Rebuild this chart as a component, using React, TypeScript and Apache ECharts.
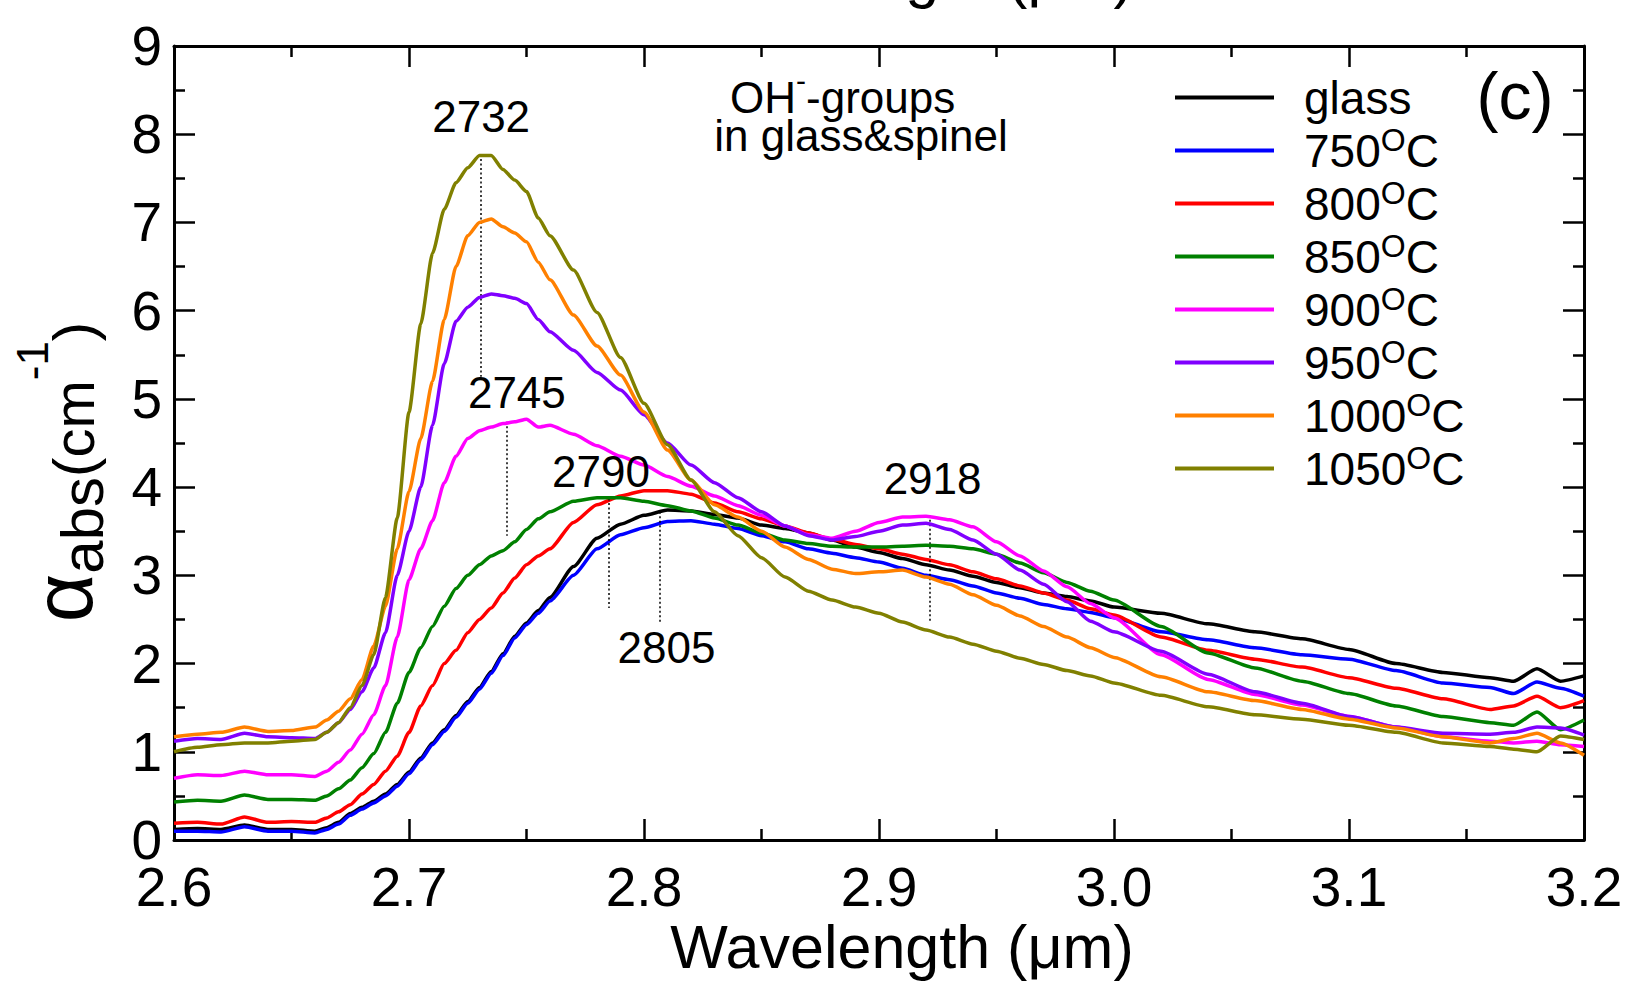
import React, { useEffect, useRef } from 'react';
import * as echarts from 'echarts';

const FONT = '"Liberation Sans", Arial, Helvetica, sans-serif';

// Wavelength grid (µm)
const wavelength = [
  2.60, 2.61, 2.62, 2.63, 2.64, 2.65, 2.66, 2.665, 2.67, 2.675,
  2.68, 2.685, 2.69, 2.695, 2.70, 2.705, 2.71, 2.715, 2.72, 2.725,
  2.73, 2.735, 2.74, 2.745, 2.75, 2.755, 2.76, 2.77, 2.78, 2.79,
  2.80, 2.81, 2.82, 2.83, 2.84, 2.85, 2.86, 2.87, 2.88, 2.89,
  2.90, 2.91, 2.92, 2.93, 2.94, 2.95, 2.96, 2.97, 2.98, 2.99,
  3.00, 3.02, 3.04, 3.06, 3.08, 3.10, 3.12, 3.14, 3.16, 3.17,
  3.18, 3.19, 3.20,
];

const glass = [
  0.12, 0.13, 0.12, 0.17, 0.12, 0.12, 0.10, 0.14, 0.20, 0.30,
  0.37, 0.44, 0.52, 0.63, 0.77, 0.93, 1.10, 1.25, 1.41, 1.57,
  1.73, 1.91, 2.11, 2.31, 2.46, 2.60, 2.75, 3.10, 3.42, 3.58,
  3.68, 3.74, 3.73, 3.69, 3.65, 3.57, 3.53, 3.48, 3.40, 3.32,
  3.26, 3.19, 3.12, 3.06, 2.99, 2.92, 2.86, 2.80, 2.76, 2.71,
  2.64, 2.57, 2.45, 2.36, 2.28, 2.16, 2.00, 1.90, 1.84, 1.80,
  1.94, 1.80, 1.86,
];
const c750 = [
  0.10, 0.10, 0.09, 0.15, 0.10, 0.10, 0.08, 0.12, 0.18, 0.28,
  0.35, 0.42, 0.50, 0.61, 0.75, 0.91, 1.08, 1.23, 1.39, 1.55,
  1.71, 1.89, 2.09, 2.29, 2.44, 2.57, 2.71, 3.00, 3.30, 3.46,
  3.54, 3.61, 3.62, 3.58, 3.53, 3.45, 3.38, 3.30, 3.25, 3.20,
  3.15, 3.08, 3.00, 2.95, 2.88, 2.80, 2.74, 2.67, 2.62, 2.58,
  2.52, 2.36, 2.27, 2.18, 2.10, 2.05, 1.92, 1.78, 1.73, 1.66,
  1.79, 1.72, 1.63,
];
const c800 = [
  0.19, 0.20, 0.18, 0.26, 0.20, 0.21, 0.20, 0.25, 0.32, 0.40,
  0.52, 0.63, 0.78, 0.95, 1.22, 1.52, 1.75, 2.00, 2.15, 2.35,
  2.50, 2.63, 2.80, 2.97, 3.12, 3.22, 3.30, 3.60, 3.80, 3.90,
  3.96, 3.96, 3.92, 3.82, 3.72, 3.64, 3.56, 3.48, 3.41, 3.35,
  3.30, 3.24, 3.18, 3.12, 3.04, 2.96, 2.88, 2.80, 2.72, 2.62,
  2.55, 2.30, 2.15, 2.05, 1.96, 1.84, 1.72, 1.60, 1.48, 1.52,
  1.63, 1.50, 1.58,
];
const c850 = [
  0.43, 0.45, 0.44, 0.51, 0.46, 0.46, 0.45, 0.50, 0.58, 0.68,
  0.82, 0.98, 1.22, 1.55, 1.90, 2.18, 2.42, 2.65, 2.85, 3.00,
  3.12, 3.22, 3.28, 3.38, 3.52, 3.64, 3.72, 3.84, 3.88, 3.88,
  3.84, 3.79, 3.73, 3.65, 3.57, 3.48, 3.40, 3.36, 3.33, 3.32,
  3.32, 3.33, 3.34, 3.33, 3.30, 3.24, 3.14, 3.03, 2.92, 2.82,
  2.72, 2.42, 2.12, 1.95, 1.80, 1.66, 1.52, 1.40, 1.33, 1.30,
  1.45, 1.25, 1.36,
];
const c900 = [
  0.70, 0.74, 0.73, 0.78, 0.74, 0.74, 0.72, 0.78, 0.88, 1.02,
  1.20, 1.42, 1.75, 2.30, 2.95, 3.30, 3.62, 4.05, 4.35, 4.55,
  4.64, 4.68, 4.72, 4.74, 4.77, 4.68, 4.70, 4.60, 4.47, 4.35,
  4.25, 4.12, 4.01, 3.90, 3.79, 3.68, 3.56, 3.46, 3.42, 3.50,
  3.60, 3.66, 3.67, 3.63, 3.55, 3.38, 3.22, 3.05, 2.87, 2.68,
  2.52, 2.10, 1.82, 1.65, 1.53, 1.40, 1.28, 1.17, 1.12, 1.10,
  1.12, 1.08, 1.06,
];
const c950 = [
  1.12, 1.15, 1.14, 1.21, 1.17, 1.16, 1.15, 1.22, 1.33, 1.48,
  1.68, 1.95, 2.35, 3.00, 3.50, 4.00, 4.70, 5.40, 5.88, 6.04,
  6.15, 6.19, 6.17, 6.14, 6.08, 5.90, 5.76, 5.55, 5.30, 5.10,
  4.82, 4.50, 4.25, 4.05, 3.88, 3.72, 3.56, 3.45, 3.40, 3.44,
  3.50, 3.57, 3.59, 3.52, 3.40, 3.24, 3.06, 2.90, 2.70, 2.48,
  2.36, 2.14, 1.88, 1.68, 1.55, 1.40, 1.28, 1.21, 1.20, 1.22,
  1.28, 1.27, 1.19,
];
const c1000 = [
  1.17, 1.20, 1.22, 1.28, 1.23, 1.24, 1.28, 1.36, 1.46, 1.60,
  1.82, 2.20, 2.65, 3.30, 3.95, 4.55, 5.20, 5.90, 6.50, 6.85,
  7.00, 7.04, 6.95, 6.88, 6.78, 6.55, 6.35, 5.95, 5.60, 5.27,
  4.85, 4.42, 4.08, 3.80, 3.66, 3.50, 3.32, 3.18, 3.07, 3.02,
  3.04, 3.06, 2.98, 2.90, 2.78, 2.66, 2.54, 2.42, 2.30, 2.18,
  2.07, 1.85, 1.68, 1.58, 1.48, 1.37, 1.27, 1.17, 1.10, 1.15,
  1.21, 1.10, 0.96,
];
const c1050 = [
  1.00, 1.05, 1.08, 1.10, 1.10, 1.12, 1.14, 1.22, 1.33, 1.50,
  1.75, 2.10, 2.75, 3.65, 4.85, 5.85, 6.65, 7.15, 7.45, 7.62,
  7.76, 7.76, 7.60, 7.48, 7.35, 7.05, 6.85, 6.46, 5.98, 5.47,
  4.95, 4.48, 4.08, 3.72, 3.45, 3.20, 2.98, 2.82, 2.72, 2.64,
  2.57, 2.47, 2.38, 2.30, 2.22, 2.14, 2.06, 1.99, 1.92, 1.86,
  1.78, 1.64, 1.51, 1.42, 1.37, 1.30, 1.22, 1.10, 1.06, 1.03,
  1.00, 1.18, 1.14,
];

const seriesNames = ['glass', '750', '800', '850', '900', '950', '1000', '1050'];
const seriesValues = [glass, c750, c800, c850, c900, c950, c1000, c1050];
const seriesColors = ['#000000', '#0000ff', '#ff0000', '#008000', '#ff00ff', '#8000ff', '#ff8000', '#808000'];

// Peak annotations (data coordinates)
const peakLabels = ['2732', '2745', '2790', '2805', '2918'];
const peakLabelX = [2.7307, 2.7459, 2.7817, 2.8096, 2.9228];
const peakLabelY = [8.2, 5.07, 4.18, 2.18, 4.10];
const peakLineX = [2.7307, 2.7414, 2.7849, 2.8066, 2.9218];
const peakLineTop = [7.72, 4.74, 3.87, 3.72, 3.68];
const peakLineBottom = [5.25, 3.45, 2.63, 2.45, 2.46];

const xMin = 2.6, xMax = 3.2, xStep = 0.1;
const yMin = 0, yMax = 9, yStep = 1;

export default function App() {
  const ref = useRef<HTMLDivElement>(null);

  useEffect(() => {
    const chart = echarts.init(ref.current as HTMLDivElement, null, { renderer: 'svg' });

    const tickStyle = { color: '#000', width: 2.5 };
    const makeX = (position: string, labels: boolean) => ({
      type: 'value', min: xMin, max: xMax, interval: xStep, position,
      axisLine: { show: true, onZero: false, lineStyle: { color: '#000', width: 3 } },
      axisTick: { show: true, inside: true, length: 21, lineStyle: tickStyle },
      minorTick: { show: true, splitNumber: 2, length: 11, lineStyle: tickStyle },
      splitLine: { show: false },
      minorSplitLine: { show: false },
      axisLabel: {
        show: labels, fontSize: 55, fontFamily: FONT, color: '#000', margin: 25, lineHeight: 44,
        formatter: (v: number) => v.toFixed(1), hideOverlap: false,
      },
    });
    const makeY = (position: string, labels: boolean) => ({
      type: 'value', min: yMin, max: yMax, interval: yStep, position,
      axisLine: { show: true, onZero: false, lineStyle: { color: '#000', width: 3 } },
      axisTick: { show: true, inside: true, length: 21, lineStyle: tickStyle },
      minorTick: { show: true, splitNumber: 2, length: 11, lineStyle: tickStyle },
      splitLine: { show: false },
      minorSplitLine: { show: false },
      axisLabel: {
        show: labels, fontSize: 55, fontFamily: FONT, color: '#000', margin: 12, lineHeight: 44,
        hideOverlap: false,
      },
    });

    const lineSeries = seriesNames.map((name, i) => ({
      name,
      type: 'line',
      data: wavelength.map((x, j) => [x, seriesValues[i][j]]),
      showSymbol: false,
      symbol: 'none',
      smooth: 0.2,
      smoothMonotone: 'x',
      lineStyle: { color: seriesColors[i], width: 3.5 },
      itemStyle: { color: seriesColors[i] },
      z: 2 + i,
      silent: true,
    }));

    const peakSeries = {
      name: 'peaks',
      type: 'scatter',
      data: peakLabels.map((t, i) => [peakLabelX[i], peakLabelY[i], t]),
      symbolSize: 1,
      itemStyle: { color: 'rgba(255,255,255,0)', opacity: 1 },
      silent: true,
      z: 20,
      label: {
        show: true, position: ['50%', '50%'], align: 'center', verticalAlign: 'middle',
        color: '#000000', fontSize: 44, fontFamily: FONT, opacity: 1,
        formatter: (p: any) => p.data[2],
      },
      markLine: {
        silent: true,
        symbol: ['none', 'none'],
        label: { show: false },
        lineStyle: { color: '#000', width: 1.5, type: [2, 2.5], opacity: 1 },
        data: peakLineX.map((x, i) => [
          { coord: [x, peakLineTop[i]] },
          { coord: [x, peakLineBottom[i]] },
        ]),
      },
    };

    const option: any = {
      animation: false,
      backgroundColor: '#ffffff',
      grid: { left: 174, top: 46, right: 46, bottom: 144, containLabel: false },
      xAxis: [makeX('bottom', true), makeX('top', false)],
      yAxis: [makeY('left', true), makeY('right', false)],
      legend: {
        data: seriesNames,
        orient: 'vertical',
        left: 1175,
        top: 71,
        padding: 0,
        itemWidth: 99,
        itemHeight: 4,
        itemGap: 0,
        icon: 'rect',
        selectedMode: false,
        textStyle: {
          color: '#000', fontFamily: FONT, fontSize: 46, padding: [0, 0, 0, 25],
          rich: {
            n: { fontSize: 46, fontFamily: FONT, lineHeight: 53.3, color: '#000' },
            s: {
              fontSize: 32, fontFamily: FONT, lineHeight: 12, verticalAlign: 'middle',
              padding: [0, 0, 21, 0], color: '#000',
            },
          },
        },
        formatter: (name: string) => (name === 'glass' ? '{n|glass}{s| }' : `{n|${name}}{s|O}{n|C}`),
      },
      graphic: [
        {
          type: 'text', x: 73, y: 472, rotation: Math.PI / 2, silent: true,
          style: {
            text: '{d|α}{b|abs}{a|(cm}{c|-1}{a|)}',
            align: 'center', verticalAlign: 'middle', fill: '#000',
            fontFamily: FONT, fontSize: 58,
            rich: {
              a: { fontSize: 58, fontFamily: FONT, lineHeight: 125, verticalAlign: 'middle', color: '#000' },
              d: {
                fontSize: 84, fontFamily: FONT, lineHeight: 100, verticalAlign: 'middle',
                padding: [0, 0, 21, 0], color: '#000',
              },
              b: {
                fontSize: 60, fontFamily: FONT, lineHeight: 100, verticalAlign: 'middle',
                padding: [19, 0, 0, 0], color: '#000',
              },
              c: { fontSize: 44, fontFamily: FONT, lineHeight: 46, verticalAlign: 'top', color: '#000' },
            },
          },
        },
        {
          type: 'text', x: 902, y: 947, silent: true,
          style: {
            text: 'Wavelength (μm)', align: 'center', verticalAlign: 'middle', fill: '#000',
            fontFamily: FONT, fontSize: 61,
          },
        },
        {
          type: 'text', x: 902, y: -25, silent: true,
          style: {
            text: 'Wavelength (μm)', align: 'center', verticalAlign: 'middle', fill: '#000',
            fontFamily: FONT, fontSize: 61,
          },
        },
        {
          type: 'text', x: 1515, y: 96, silent: true,
          style: {
            text: '(c)', align: 'center', verticalAlign: 'middle', fill: '#000',
            fontFamily: FONT, fontSize: 66,
          },
        },
        {
          type: 'text', x: 861, y: 116, silent: true,
          style: {
            text: '{n|OH}{s|-}{n|-groups   }\n{n|in glass&spinel}',
            align: 'center', verticalAlign: 'middle', fill: '#000',
            fontFamily: FONT, fontSize: 44,
            rich: {
              n: { fontSize: 44, fontFamily: FONT, lineHeight: 38, color: '#000' },
              s: {
                fontSize: 30, fontFamily: FONT, lineHeight: 4, verticalAlign: 'middle',
                padding: [0, 0, 34, 0], color: '#000',
              },
            },
          },
        },
      ],
      series: [...lineSeries, peakSeries],
    };

    chart.setOption(option);
    return () => chart.dispose();
  }, []);

  return (
    <div
      ref={ref}
      style={{ position: 'absolute', left: 0, top: 0, width: 1630, height: 984, background: '#fff' }}
    />
  );
}
